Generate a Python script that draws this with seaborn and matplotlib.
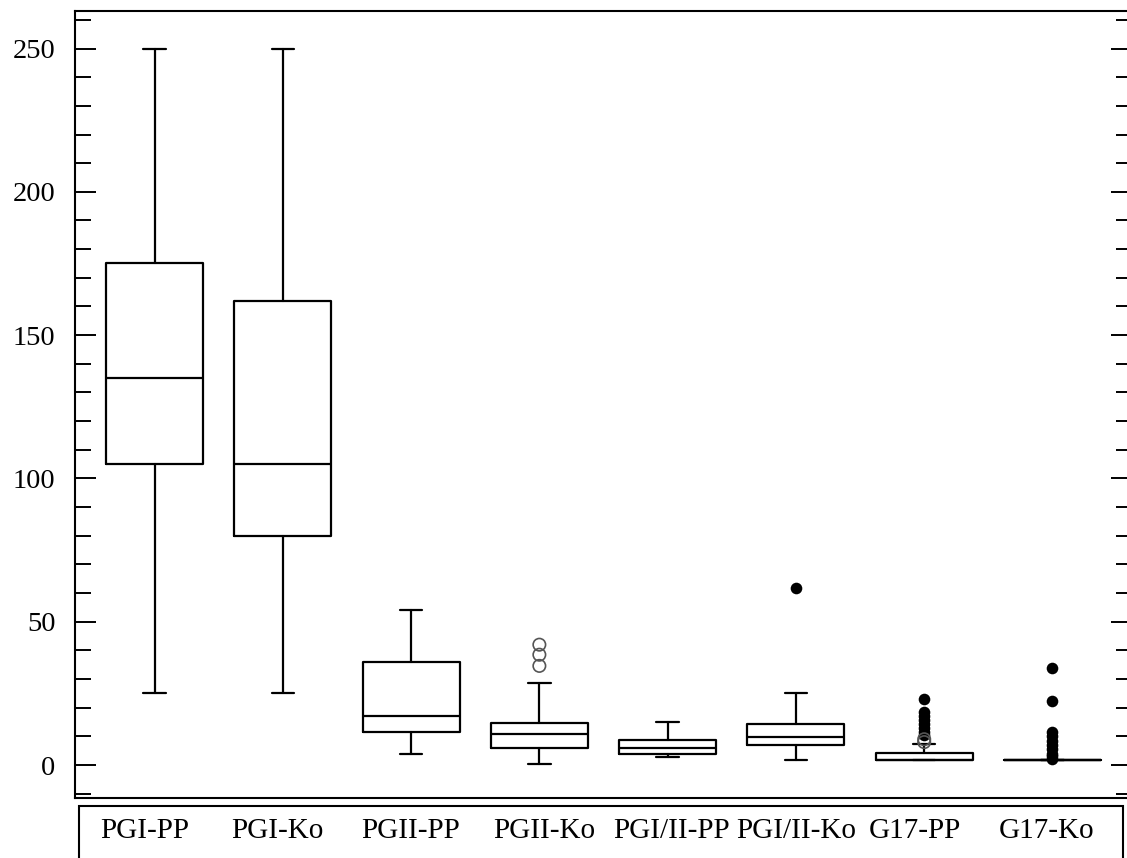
import matplotlib.pyplot as plt
import matplotlib.patches as mpatches
import matplotlib.transforms as mtransforms
from matplotlib.ticker import MultipleLocator
import seaborn as sns

sns.set_theme(style="ticks")
plt.rcParams['font.family'] = ['Liberation Serif', 'DejaVu Serif']

groups = ['PGI-PP', 'PGI-Ko', 'PGII-PP', 'PGII-Ko', 'PGI/II-PP', 'PGI/II-Ko', 'G17-PP', 'G17-Ko']
whisker_low = [25, 25, 4, 0.5, 2.8, 1.6, 1.7, 1.7]
q1 = [105, 80, 11.5, 5.8, 4, 7, 1.7, 1.7]
median = [135, 105, 17, 11, 5.8, 9.8, 1.7, 1.7]
q3 = [175, 162, 36, 14.5, 8.6, 14.4, 4.2, 1.7]
whisker_high = [250, 250, 54, 28.5, 15, 25, 7.2, 1.7]

# outliers (open circles) and extreme values (filled dots)
mild_group = ['PGII-Ko', 'PGII-Ko', 'PGII-Ko', 'G17-PP', 'G17-PP']
mild_value = [34.6, 38.5, 42, 8, 9]
extreme_group = (['PGI/II-Ko'] + ['G17-PP'] * 8 + ['G17-Ko'] * 10)
extreme_value = [61.7,
                 23, 18.6, 17.2, 15.8, 14.4, 13, 11.6, 10.5,
                 33.7, 22.4, 11.6, 10, 8.5, 7, 5.5, 4, 3, 2]

# small horizontal nudges (px) of the category labels inside the bottom box
label_shift = [-9.5, -5, -1, 5, 4, 0, -9, -6]

W, H = 1127, 858
fig = plt.figure(figsize=(W / 100, H / 100), dpi=100)
ax = fig.add_axes([75 / W, 1 - 798.3 / H, (1132 - 75) / W, (798.3 - 10.7) / H])

stats = []
for i, g in enumerate(groups):
    stats.append(dict(label=g, whislo=whisker_low[i], q1=q1[i], med=median[i],
                      q3=q3[i], whishi=whisker_high[i], fliers=[]))

line = dict(color='black', lw=1.6)
ax.bxp(stats, positions=range(len(groups)), widths=0.755, capwidths=0.176,
       showfliers=False, boxprops=line, whiskerprops=line, capprops=line,
       medianprops=line)

pos = {g: i for i, g in enumerate(groups)}
sns.scatterplot(x=[pos[g] for g in extreme_group], y=extreme_value, ax=ax,
                color='black', s=70, linewidth=0, zorder=4)
sns.scatterplot(x=[pos[g] for g in mild_group], y=mild_value, ax=ax,
                color='#555555', s=80, linewidth=1.2, zorder=5)
ax.collections[-1].set_facecolor('none')
ax.collections[-1].set_edgecolor('#555555')

ax.set_xlim(-0.62, 7.62)
ax.set_ylim(-11.6, 263.2)
ax.set_xticks(range(len(groups)))
ax.set_xticklabels(groups, fontsize=21)
ax.tick_params(axis='x', length=0, pad=14.5, colors='black')
for lab, dx in zip(ax.get_xticklabels(), label_shift):
    lab.set_transform(lab.get_transform() +
                      mtransforms.ScaledTranslation(dx / 100, 0, fig.dpi_scale_trans))

ax.yaxis.set_major_locator(MultipleLocator(50))
ax.yaxis.set_minor_locator(MultipleLocator(10))
ax.tick_params(axis='y', which='both', direction='in', left=True, right=True,
               width=1.4, color='black', labelcolor='black', labelsize=20.5, pad=14)
ax.tick_params(axis='y', which='major', length=15)
ax.tick_params(axis='y', which='minor', length=11.5)
ax.set_xlabel('')
ax.set_ylabel('')

for s in ax.spines.values():
    s.set_color('black')
    s.set_linewidth(1.5)

rect = mpatches.Rectangle((79 / W, -0.1), (1123 - 79) / W, 0.1 + (1 - 806 / H),
                          transform=fig.transFigure, fill=False, lw=1.5,
                          ec='black', clip_on=False)
fig.add_artist(rect)

fig.savefig('out.png', dpi=100)
